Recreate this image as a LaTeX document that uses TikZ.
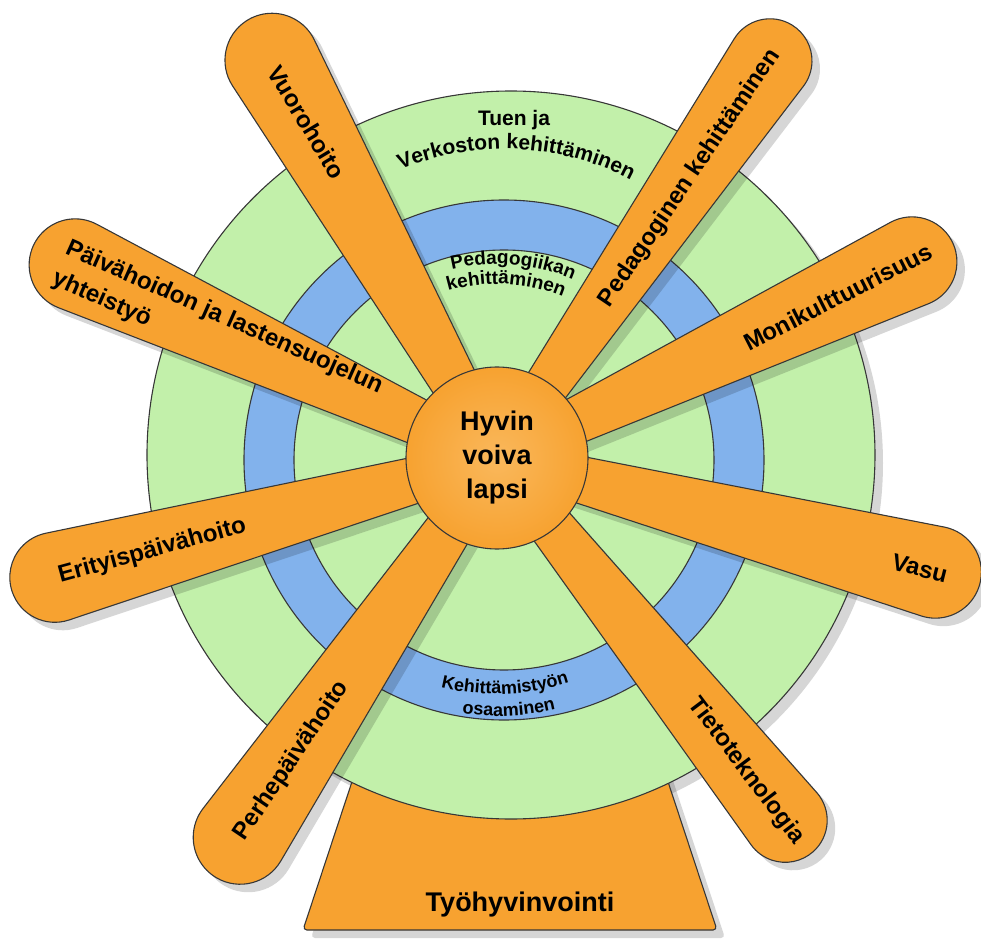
\documentclass[tikz,border=0pt]{standalone}
\usepackage{fontspec}
\setmainfont{Liberation Sans}
\usetikzlibrary{decorations.text}

\definecolor{spokeorange}{RGB}{247,162,48}
\definecolor{ringgreen}{RGB}{194,240,170}
\definecolor{ringblue}{RGB}{130,178,236}
\definecolor{edgegray}{RGB}{55,55,55}

\tikzset{
  spokebox/.style={fill=spokeorange, draw=edgegray, line width=1.1bp},
  shadowfill/.style={fill=black, fill opacity=0.16},
  spoketext/.style={font=\fontsize{24bp}{33bp}\selectfont\bfseries, inner sep=0pt},
  arctext/.style={decorate, decoration={text along path, text align=center, text={#1}}},
}

\begin{document}
\begin{tikzpicture}[x=1bp, y=1bp, line join=round, line cap=round]
\useasboundingbox (-497,-481) rectangle (484,458);

% shadows of the big pieces
\fill[shadowfill] (22,-5) circle[radius=364];
\fill[shadowfill, rounded corners=4] (-110,-250) -- (152,-250) -- (228,-480) -- (-186,-480) -- cycle;

% Tyohyvinvointi base
\draw[spokebox, rounded corners=4] (-118,-242) -- (144,-242) -- (220,-472) -- (-194,-472) -- cycle;
\node[font=\fontsize{27bp}{30bp}\selectfont\bfseries] (tyo) at (23,-447) {Työhyvinvointi};

% rings
\draw[fill=ringgreen, draw=edgegray, line width=1.1bp] (14,3) circle[radius=364];
\draw[fill=ringblue, draw=edgegray, line width=1.1bp, even odd rule] (7,-2) circle[radius=260] (7,-2) circle[radius=210];

\node[font=\fontsize{21bp}{24bp}\selectfont\bfseries] (tuen) at (17,338) {Tuen ja};
\path[arctext={|\fontsize{21bp}{24bp}\selectfont\bfseries|Verkoston kehittäminen}]
  (8,39) ++(135:270) arc[start angle=135, end angle=40, radius=270];

% spokes
\foreach \a/\L/\R in {119.5/457/47, 55.5/482/42, 25.3/459/45, -14.6/453/46,
                      -51.5/463/42, -124.1/458/47, 195.1/458/45, 155.4/464/46}{
  \pgfmathsetmacro\tg{90+asin((\R-18)/\L)}
  \begin{scope}[shift={(8,-8)}, rotate=\a]
    \fill[shadowfill] (0,18) -- ({\L+\R*cos(\tg)},{\R*sin(\tg)})
      arc[start angle=\tg, end angle=-\tg, radius=\R] -- (0,-18) -- cycle;
  \end{scope}
}
\foreach \a/\L/\R in {119.5/457/47, 55.5/482/42, 25.3/459/45, -14.6/453/46,
                      -51.5/463/42, -124.1/458/47, 195.1/458/45, 155.4/464/46}{
  \pgfmathsetmacro\tg{90+asin((\R-18)/\L)}
  \begin{scope}[rotate=\a]
    \draw[spokebox] (0,18) -- ({\L+\R*cos(\tg)},{\R*sin(\tg)})
      arc[start angle=\tg, end angle=-\tg, radius=\R] -- (0,-18) -- cycle;
  \end{scope}
}

% texts on the rings
\path[arctext={|\fontsize{19bp}{21bp}\selectfont\bfseries|Pedagogiikan}]
  (0,0) ++(130:194) arc[start angle=130, end angle=40.4, radius=194];
\path[arctext={|\fontsize{19bp}{21bp}\selectfont\bfseries|kehittäminen}]
  (0,0) ++(130:174) arc[start angle=130, end angle=44, radius=174];
\path[arctext={|\fontsize{18bp}{21bp}\selectfont\bfseries|Kehittämistyön}]
  (0,0) ++(-128:236) arc[start angle=-128, end angle=-48, radius=236];
\path[arctext={|\fontsize{18bp}{21bp}\selectfont\bfseries|osaaminen}]
  (0,0) ++(-127:258) arc[start angle=-127, end angle=-47.6, radius=258];

% spoke labels
\node[spoketext, rotate=-59]  (vuoro)   at (119.5:386)  {Vuorohoito};
\node[spoketext, rotate=56]   (pedakeh) at (55.4:340)   {Pedagoginen kehittäminen};
\node[spoketext, rotate=27]   (moni)    at (25.3:377)   {Monikulttuurisuus};
\node[spoketext, rotate=-14]  (vasu)    at (-14.6:437)  {Vasu};
\node[spoketext, rotate=-53]  (tieto)   at (-51.5:400)  {Tietoteknologia};
\node[spoketext, rotate=56]   (perhe)   at (-124.1:366) {Perhepäivähoito};
\node[spoketext, rotate=15.3] (erityis) at (195.1:357)  {Erityispäivähoito};
\node[spoketext, rotate=-24, anchor=west, align=left] (yhteis) at (-437,195)
  {Päivähoidon ja lastensuojelun\\yhteistyö};

% centre
\node[circle, draw=edgegray, line width=1.1bp, minimum size=182bp, inner sep=0pt,
      inner color={rgb,255:red,250;green,184;blue,92}, outer color=spokeorange,
      align=center, font=\fontsize{27bp}{34bp}\selectfont\bfseries] (hub) at (0,0)
  {Hyvin\\voiva\\lapsi};

\end{tikzpicture}
\end{document}
